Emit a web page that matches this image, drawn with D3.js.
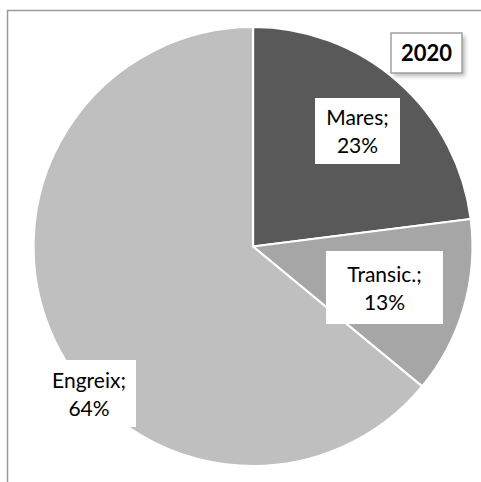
<!DOCTYPE html>
<html><head><meta charset="utf-8">
<script src="https://cdn.jsdelivr.net/npm/d3@7"></script>
<style>html,body{margin:0;padding:0;background:#fff;}</style>
</head><body>
<script>
const categories = ["Mares", "Transic.", "Engreix"];
const values = [23, 13, 64];
const colors = ["#595959", "#a6a6a6", "#bfbfbf"];
const title = "2020";

const W = 481, H = 482;
const svg = d3.select("body").append("svg").attr("width", W).attr("height", H);

// frame
svg.append("rect").attr("x", 7.5).attr("y", 10.5).attr("width", 490).attr("height", 490)
  .attr("fill", "none").attr("stroke", "#9a9a9a").attr("stroke-width", 1.5);

const cx = 253, cy = 246.5, r = 219.5;
const pie = d3.pie().sort(null).value(d => d.v);
const arcs = pie(categories.map((c, i) => ({c, v: values[i], col: colors[i]})));
const arc = d3.arc().innerRadius(0).outerRadius(r);
const g = svg.append("g").attr("transform", `translate(${cx},${cy})`);
g.selectAll("path").data(arcs).join("path")
  .attr("d", arc).attr("fill", d => d.data.col)
  .attr("stroke", "#fff").attr("stroke-width", 2.2).attr("stroke-linejoin", "round");

// labels
const font = "Lato, 'Liberation Sans', sans-serif";
const labelPos = [
  {x: 357.5, y: 131, w: 85, h: 66},
  {x: 384.5, y: 287.5, w: 117, h: 73},
  {x: 89, y: 393.5, w: 94, h: 67}
];
arcs.forEach((d, i) => {
  const p = labelPos[i];
  const lg = svg.append("g");
  lg.append("rect").attr("x", p.x - p.w / 2).attr("y", p.y - p.h / 2)
    .attr("width", p.w).attr("height", p.h).attr("fill", "#fff");
  const t = lg.append("text").attr("text-anchor", "middle")
    .attr("font-family", font).attr("font-size", 21).attr("fill", "#000");
  t.append("tspan").attr("x", p.x).attr("y", p.y - 6).text(d.data.c + ";");
  t.append("tspan").attr("x", p.x).attr("y", p.y + 22).text(d.data.v + "%");
});

// title box with shadow
const tb = {x: 391, y: 33, w: 71, h: 40};
const defs = svg.append("defs");
const f = defs.append("filter").attr("id", "sh").attr("x", "-30%").attr("y", "-30%").attr("width", "160%").attr("height", "160%");
f.append("feGaussianBlur").attr("stdDeviation", 2);
svg.append("rect").attr("x", tb.x + 3).attr("y", tb.y + 3).attr("width", tb.w).attr("height", tb.h)
  .attr("fill", "#888").attr("opacity", 0.6).attr("filter", "url(#sh)");
svg.append("rect").attr("x", tb.x).attr("y", tb.y).attr("width", tb.w).attr("height", tb.h)
  .attr("fill", "#fff").attr("stroke", "#a0a0a0").attr("stroke-width", 1.5);
svg.append("text").attr("x", tb.x + tb.w / 2).attr("y", tb.y + tb.h / 2 + 7.5)
  .attr("text-anchor", "middle").attr("font-family", font).attr("font-weight", "bold")
  .attr("font-size", 22).attr("fill", "#000").text(title);
</script>
</body></html>
